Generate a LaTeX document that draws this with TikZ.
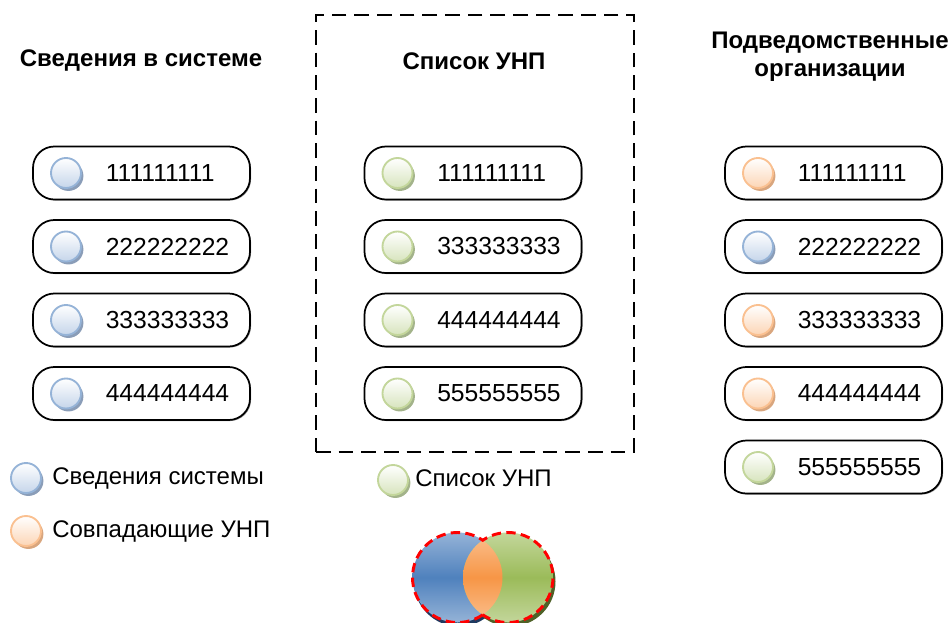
\documentclass[tikz,border=0pt]{standalone}
\usepackage{fontspec}
\setmainfont{Liberation Sans}
\usetikzlibrary{shadows}
\definecolor{bluebd}{HTML}{95B3D7}
\definecolor{bluefl}{HTML}{C5D5EA}
\definecolor{bluesh}{HTML}{8A9DB8}
\definecolor{greenbd}{HTML}{C3D69B}
\definecolor{greenfl}{HTML}{D7E4BD}
\definecolor{greensh}{HTML}{A3B38A}
\definecolor{orangebd}{HTML}{FAC090}
\definecolor{orangefl}{HTML}{FCD5B5}
\definecolor{orangesh}{HTML}{D9A67E}
\definecolor{vblue}{HTML}{4F81BD}
\definecolor{vbluel}{HTML}{95B3D7}
\definecolor{vgreen}{HTML}{9BBB59}
\definecolor{vgreenl}{HTML}{C3D69B}
\definecolor{vorange}{HTML}{F79646}
\definecolor{vorangel}{HTML}{FAC090}
\definecolor{vblsh}{HTML}{1F3A60}
\definecolor{vgrsh}{HTML}{4F6228}
\tikzset{
  pill/.style={draw=black, line width=1.3pt, rounded corners=16pt, fill=white,
    minimum width=162.75pt, minimum height=39.75pt,
    general shadow={fill=black!40, shadow xshift=0.8pt, shadow yshift=-0.8pt}},
  dot/.style={circle, minimum size=22.5pt, inner sep=0pt, line width=1.4pt},
  bdot/.style={dot, draw=bluebd, top color=white, bottom color=bluefl,
    general shadow={fill=bluesh, shadow xshift=1.8pt, shadow yshift=-2.2pt}},
  gdot/.style={dot, draw=greenbd, top color=white, bottom color=greenfl,
    general shadow={fill=greensh, shadow xshift=1.8pt, shadow yshift=-2.2pt}},
  odot/.style={dot, draw=orangebd, top color=white, bottom color=orangefl,
    general shadow={fill=orangesh, shadow xshift=1.8pt, shadow yshift=-2.2pt}},
  num/.style={anchor=west, inner sep=0pt, font=\fontsize{18.5}{22}\selectfont},
  leg/.style={anchor=west, inner sep=0pt, font=\fontsize{18}{21}\selectfont},
  head/.style={inner sep=0pt, align=center, font=\bfseries\fontsize{18}{21}\selectfont},
  framebox/.style={draw=black, line width=1.4pt, dash pattern=on 11pt off 6pt,
    minimum width=238.5pt, minimum height=327.75pt, inner sep=0pt}
}
\begin{document}
\begin{tikzpicture}[x=0.75pt,y=-0.75pt]
\useasboundingbox (0,0) rectangle (952,622);
\fill[white] (0,0) rectangle (952,622);

\node[framebox] (frame) at (475,233.5) {};

\node[head] (h1) at (141,61) {Сведения в системе};
\node[head] (h2) at (474,61) {Список УНП};
\node[head] (h3) at (830,57) {Подведомственные\\организации};

% left column
\foreach \i/\y/\t in {1/173/111111111,2/246.5/222222222,3/320/333333333,4/393.5/444444444}{
  \node[pill] (l\i) at (141.5,\y) {};
  \node[bdot] (lc\i) at (66,\y) {};
  \node[num] (lt\i) at (105.5,\y) {\t};
}
% middle column
\foreach \i/\y/\t in {1/173/111111111,2/246.5/333333333,3/320/444444444,4/393.5/555555555}{
  \node[pill] (m\i) at (473,\y) {};
  \node[gdot] (mc\i) at (397.5,\y) {};
  \node[num] (mt\i) at (437,\y) {\t};
}
% right column
\node[pill] (r1) at (833.5,173) {};
\node[odot] (rc1) at (758,173) {};
\node[num] (rt1) at (797.5,173) {111111111};
\node[pill] (r2) at (833.5,246.5) {};
\node[bdot] (rc2) at (758,246.5) {};
\node[num] (rt2) at (797.5,246.5) {222222222};
\node[pill] (r3) at (833.5,320) {};
\node[odot] (rc3) at (758,320) {};
\node[num] (rt3) at (797.5,320) {333333333};
\node[pill] (r4) at (833.5,393.5) {};
\node[odot] (rc4) at (758,393.5) {};
\node[num] (rt4) at (797.5,393.5) {444444444};
\node[pill] (r5) at (833.5,467) {};
\node[gdot] (rc5) at (758,467) {};
\node[num] (rt5) at (797.5,467) {555555555};

% legend
\node[bdot] (lg1) at (26,478) {};
\node[leg] (lgt1) at (52,478) {Сведения системы};
\node[odot] (lg2) at (26,531) {};
\node[leg] (lgt2) at (52,531) {Совпадающие УНП};
\node[gdot] (lg3) at (393,480) {};
\node[leg] (lgt3) at (415,478) {Список УНП};

% Venn
\fill[vblsh] (459,581.5) circle[radius=45];
\fill[vgrsh] (510.5,581.5) circle[radius=45];
\shade[top color=vbluel, bottom color=vbluel, middle color=vblue] (457.5,577.5) circle[radius=45];
\shade[top color=vgreenl, bottom color=vgreenl, middle color=vgreen] (508,577.5) circle[radius=45];
\begin{scope}
  \clip (457.5,577.5) circle[radius=45];
  \shade[top color=vorangel, bottom color=vorangel, middle color=vorange] (508,577.5) circle[radius=45];
\end{scope}
\draw[red, line width=2.2pt, dash pattern=on 7pt off 4pt]
  (457.5,577.5) ++(55.9:45) arc[start angle=55.9, end angle=304.1, radius=45]
  arc[start angle=235.9, end angle=484.1, radius=45] -- cycle;
\end{tikzpicture}
\end{document}
